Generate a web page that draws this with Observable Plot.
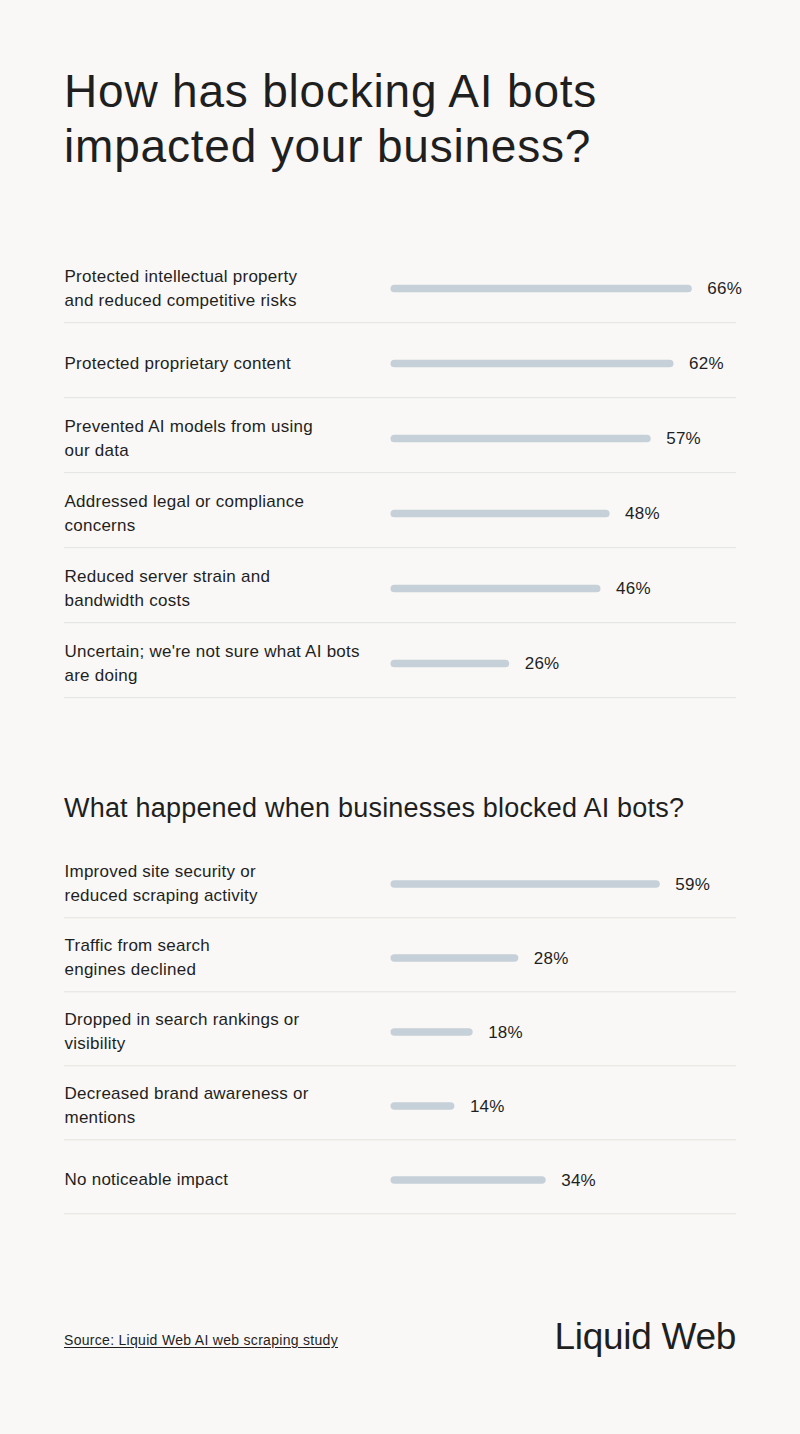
<!DOCTYPE html>
<html>
<head>
<meta charset="utf-8">
<script src="https://cdn.jsdelivr.net/npm/d3@7"></script>
<script src="https://cdn.jsdelivr.net/npm/@observablehq/plot@0.6"></script>
<style>
  html, body { margin: 0; padding: 0; background: #f9f8f6; }
  body { width: 800px; height: 1434px; position: relative; font-family: "Liberation Sans", Arial, sans-serif; color: #1f1f1f; overflow: hidden; }
  .abs { position: absolute; }
  #title { left: 64px; top: 64px; font-size: 46px; line-height: 55px; font-weight: 400; margin: 0; letter-spacing: 0.8px; }
  #sub { left: 64px; top: 791px; font-size: 27px; line-height: 34px; font-weight: 400; margin: 0; letter-spacing: 0.2px; }
  #chart1 { left: 0; top: 246px; }
  #chart2 { left: 0; top: 841px; }
  #source { left: 64px; top: 1332px; font-size: 14px; letter-spacing: 0.3px; text-decoration: underline; text-underline-offset: 2px; }
  #logo { right: 64px; top: 1316px; font-size: 37px; letter-spacing: -0.3px; }
</style>
</head>
<body>
<h1 id="title" class="abs">How has blocking AI bots<br>impacted your business?</h1>
<div id="chart1" class="abs"></div>
<h2 id="sub" class="abs">What happened when businesses blocked AI bots?</h2>
<div id="chart2" class="abs"></div>
<div id="source" class="abs">Source: Liquid Web AI web scraping study</div>
<div id="logo" class="abs">Liquid Web</div>
<script>
const impactCategories = [
  "Protected intellectual property\nand reduced competitive risks",
  "Protected proprietary content",
  "Prevented AI models from using\nour data",
  "Addressed legal or compliance\nconcerns",
  "Reduced server strain and\nbandwidth costs",
  "Uncertain; we're not sure what AI bots\nare doing"
];
const impactValues = [66, 62, 57, 48, 46, 26];

const outcomeCategories = [
  "Improved site security or\nreduced scraping activity",
  "Traffic from search\nengines declined",
  "Dropped in search rankings or\nvisibility",
  "Decreased brand awareness or\nmentions",
  "No noticeable impact"
];
const outcomeValues = [59, 28, 18, 14, 34];

function barChart(categories, values, row) {
  const data = categories.map((c, i) => ({category: c, value: values[i]}));
  const h = categories.length * row;
  const bw = row;
  const fontStyle = {fontSize: 17, fill: "#1f1f1f"};
  const svg = Plot.plot({
    width: 800,
    height: Math.ceil(h) + 2,
    marginLeft: 64,
    marginRight: 64,
    marginTop: 0,
    marginBottom: 0,
    style: {background: "transparent", fontFamily: "Liberation Sans, Arial, sans-serif", fontSize: "17px", color: "#1f1f1f", letterSpacing: "0.25px"},
    x: {domain: [0, 100], range: [390.5, 847], axis: null},
    y: {domain: categories, range: [0, h], padding: 0, axis: null},
    marks: [
      Plot.ruleY(data, {y: "category", dy: bw / 2, stroke: "#e4e3e0", strokeWidth: 1}),
      Plot.barX(data, {y: "category", x1: 0, x2: "value", fill: "#c5d0d8", insetTop: bw / 2, insetBottom: bw / 2 - 8, rx: 4}),
      Plot.text(data, {y: "category", x: "value", text: d => d.value + "%", dx: 15, dy: 4, textAnchor: "start", ...fontStyle}),
      Plot.text(data, {y: "category", frameAnchor: "left", text: "category", dy: 1, textAnchor: "start", lineAnchor: "middle", lineHeight: 1.42, ...fontStyle})
    ]
  });
  return svg;
}

document.getElementById("chart1").appendChild(barChart(impactCategories, impactValues, 75.3));
document.getElementById("chart2").appendChild(barChart(outcomeCategories, outcomeValues, 74.6));
</script>
</body>
</html>
